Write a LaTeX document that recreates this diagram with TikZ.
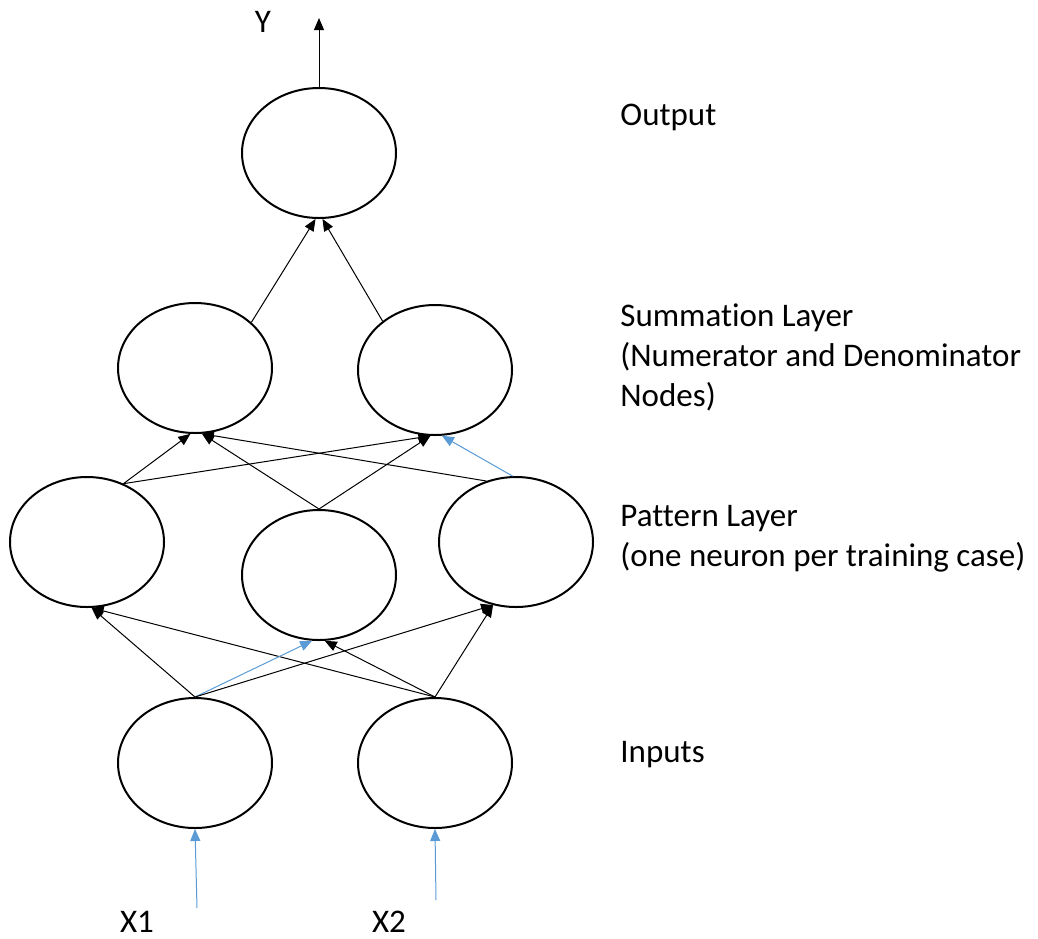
\documentclass[tikz,border=0pt]{standalone}
\usepackage{fontspec}
\setmainfont[Ligatures=NoCommon]{Carlito}
\usetikzlibrary{arrows.meta,shapes.geometric}
\definecolor{inblue}{RGB}{91,155,213}

\begin{document}
\begin{tikzpicture}[x=0.5pt, y=-0.5pt,
    neuron/.style={draw, line width=1pt, ellipse, minimum width=77pt, minimum height=65pt, inner sep=0pt},
    link/.style={line width=0.5pt, -{Triangle[length=6pt,width=5pt]}},
    bluelink/.style={link, draw=inblue},
    lbl/.style={inner sep=0pt, font=\fontsize{16.5pt}{20pt}\selectfont}]
    \useasboundingbox (0,0) rectangle (1038,938);
    % neurons, layer by layer
    \node[neuron] (out) at (319,153) {};
    \node[neuron] (sumL) at (195,368) {};
    \node[neuron] (sumR) at (435,370) {};
    \node[neuron] (patL) at (87,542) {};
    \node[neuron] (patM) at (319,575) {};
    \node[neuron] (patR) at (516,542) {};
    \node[neuron] (inL) at (195,763) {};
    \node[neuron] (inR) at (435,763) {};
    % free ends of the outer arrows
    \coordinate (yend) at (319,18);
    \coordinate (x1) at (197,908);
    \coordinate (x2) at (436,900);
    \node[lbl] (ylbl) at (263,22) {Y};
    \node[lbl] (x1lbl) at (137,922) {X1};
    \node[lbl] (x2lbl) at (389,922) {X2};
    % layer names on the right
    \node[lbl, anchor=west] (lblout) at (620,117) {Output};
    \node[lbl, anchor=west, align=left] (lblsum) at (620,357) {Summation Layer\\(Numerator and Denominator\\Nodes)};
    \node[lbl, anchor=west, align=left] (lblpat) at (620,539) {Pattern Layer\\(one neuron per training case)};
    \node[lbl, anchor=west] (lblin) at (620,755) {Inputs};
    % summation -> output
    \draw[link] (out.north) -- (yend);
    \draw[link] (sumL.39) -- (out.-93);
    \draw[link] (sumR.137) -- (out.-87);
    % pattern -> summation
    \draw[link] (patL.58) -- (sumL.-94);
    \draw[link] (patL.58) -- (sumR.-94);
    \draw[link] (patM.north) -- (sumL.-84);
    \draw[link] (patM.north) -- (sumR.-94);
    \draw[link] (patR.116) -- (sumL.-84);
    \draw[bluelink] (patR.93) -- (sumR.-84);
    % inputs -> pattern
    \draw[link] (inL.north) -- (patL.-86);
    \draw[link] (inR.north) -- (patL.-86);
    \draw[bluelink] (inL.north) -- (patM.-96);
    \draw[link] (inR.north) -- (patM.-85);
    \draw[link] (inL.north) -- (patR.-110);
    \draw[link] (inR.north) -- (patR.-110);
    % x values in
    \draw[bluelink] (x1) -- (inL.south);
    \draw[bluelink] (x2) -- (inR.south);
\end{tikzpicture}
\end{document}
